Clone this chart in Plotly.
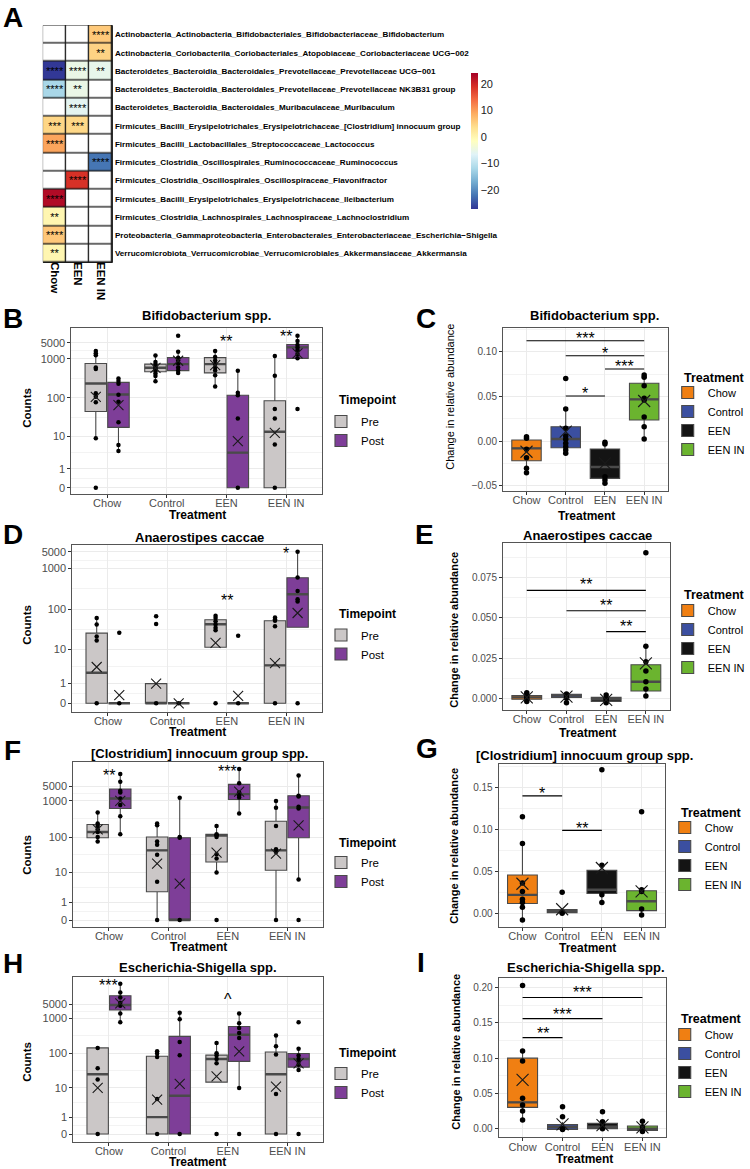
import numpy as np
import plotly.graph_objects as go

# ======================= DATA =======================
# ---- Panel A (heatmap) ----
HM_TAXA = [
    "Actinobacteria_Actinobacteria_Bifidobacteriales_Bifidobacteriaceae_Bifidobacterium",
    "Actinobacteria_Coriobacteriia_Coriobacteriales_Atopobiaceae_Coriobacteriaceae UCG−002",
    "Bacteroidetes_Bacteroidia_Bacteroidales_Prevotellaceae_Prevotellaceae UCG−001",
    "Bacteroidetes_Bacteroidia_Bacteroidales_Prevotellaceae_Prevotellaceae NK3B31 group",
    "Bacteroidetes_Bacteroidia_Bacteroidales_Muribaculaceae_Muribaculum",
    "Firmicutes_Bacilli_Erysipelotrichales_Erysipelotrichaceae_[Clostridium] innocuum group",
    "Firmicutes_Bacilli_Lactobacillales_Streptococcaceae_Lactococcus",
    "Firmicutes_Clostridia_Oscillospirales_Ruminococcaceae_Ruminococcus",
    "Firmicutes_Clostridia_Oscillospirales_Oscillospiraceae_Flavonifractor",
    "Firmicutes_Bacilli_Erysipelotrichales_Erysipelotrichaceae_Ileibacterium",
    "Firmicutes_Clostridia_Lachnospirales_Lachnospiraceae_Lachnoclostridium",
    "Proteobacteria_Gammaproteobacteria_Enterobacterales_Enterobacteriaceae_Escherichia−Shigella",
    "Verrucomicrobiota_Verrucomicrobiae_Verrucomicrobiales_Akkermansiaceae_Akkermansia",
]
HM_GROUPS = ["Chow", "EEN", "EEN IN"]
HM_VALUES = [
    [None, None, 6.0],
    [None, None, 5.0],
    [-27.0, -5.0, -5.5],
    [-12.0, -5.0, None],
    [None, -6.0, None],
    [4.7, 4.5, None],
    [9.5, None, None],
    [None, None, -22.0],
    [None, 19.0, None],
    [23.0, None, None],
    [0.0, None, None],
    [6.2, None, None],
    [0.0, None, None],
]
HM_STARS = [
    ["", "", "****"],
    ["", "", "**"],
    ["****", "****", "**"],
    ["****", "**", ""],
    ["", "****", ""],
    ["***", "***", ""],
    ["****", "", ""],
    ["", "", "****"],
    ["", "****", ""],
    ["****", "", ""],
    ["**", "", ""],
    ["****", "", ""],
    ["**", "", ""],
]
HM_CB_TICKS = [-20, -10, 0, 10, 20]

# ---- common categories ----
CATS = ["Chow", "Control", "EEN", "EEN IN"]
TIMEPOINTS = ["Pre", "Post"]
COUNT_TICKS = [0, 1, 10, 100, 1000, 5000]

# ---- count panels: order = Chow Pre, Chow Post, Control Pre, Control Post, EEN Pre, EEN Post, EEN IN Pre, EEN IN Post
B_Q1 = [45, 17.5, 468, 500, 437, 0, 0, 1040]
B_MED = [234, 123, 589, 731, 731, 3.7, 13.4, 3120]
B_Q3 = [759, 251, 731, 1125, 1125, 117, 85, 4200]
B_LO = [9, 4.1, 269, 437, 195, 0, 0, 1040]
B_HI = [2190, 316, 1370, 2030, 2190, 495, 1310, 7530]
B_MEAN = [107, 66, 589, 890, 690, 7.6, 12.5, 1730]
B_PTS = [
    [2190, 1730, 1425, 600, 550, 132, 107, 78, 9, 0],
    [316, 270, 230, 120, 80, 24, 6, 4.1],
    [1370, 830, 700, 620, 560, 500, 420, 363, 269],
    [7530, 2030, 1100, 900, 760, 600, 500, 437],
    [2190, 1200, 900, 731, 600, 500, 380, 195],
    [495, 135, 117, 30, 0],
    [1310, 370, 52, 30, 6.2, 0],
    [7530, 5500, 3950, 3120, 2370, 1600, 1040, 52],
]

D_Q1 = [0, 0, 0, 0, 11.5, 0, 0, 36.8]
D_MED = [2.45, 0, 0, 0, 43.6, 0, 4.0, 236]
D_Q3 = [26.3, 0, 1, 0, 56.4, 0, 53, 595]
D_LO = [0, 0, 0, 0, 11.5, 0, 0, 36.8]
D_HI = [62, 0, 1, 0, 70, 0, 64, 5000]
D_MEAN = [3.6, 0.33, 1, 0, 15, 0.3, 4.6, 82]
D_PTS = [
    [62, 43, 21.7, 17.3, 0],
    [26.8, 0],
    [68, 44.4, 0],
    [0],
    [70, 62, 52, 43, 36, 31, 0],
    [22.6, 0],
    [64, 58, 53, 38.8, 0],
    [5000, 600, 283, 178, 156, 0],
]

F_Q1 = [96, 617, 2.7, 0, 20.3, 1157, 11.7, 96]
F_MED = [138, 1290, 43, 0, 111, 2080, 43, 658]
F_Q3 = [222, 3600, 100, 96, 119, 5560, 274, 1730]
F_LO = [76, 119, 0, 0, 10, 448, 0, 6.4]
F_HI = [478, 10770, 236, 1390, 203, 14800, 990, 9680]
F_MEAN = [164, 1000, 18.2, 4.9, 37, 2690, 34.8, 212]
F_PTS = [
    [478, 236, 203, 164, 138, 100, 76],
    [10770, 6600, 3000, 2500, 1290, 765, 379, 119],
    [236, 212, 76, 62, 32.6, 5.5, 0],
    [1390, 101, 96, 0],
    [203, 119, 112, 100, 33.8, 25.5, 10, 0],
    [14800, 5930, 2500, 1860, 1440, 448],
    [990, 645, 203, 46, 39, 0],
    [9680, 1730, 1600, 687, 617, 6.4, 0],
]

H_Q1 = [0, 2550, 0, 0, 15, 60, 0, 41]
H_MED = [25.7, 4470, 1, 6.0, 70, 343, 25.7, 70]
H_Q3 = [145, 8570, 84, 308, 90, 590, 111, 100]
H_LO = [0, 780, 0, 0, 15, 10, 0, 34]
H_HI = [145, 18960, 116, 1890, 200, 1750, 329, 138]
H_MEAN = [10, 5200, 4.6, 13.4, 22.3, 116, 11, 53]
H_PTS = [
    [145, 38, 18, 0],
    [18960, 10600, 7700, 5450, 4150, 1750, 780],
    [116, 100, 80, 4.8, 0],
    [1890, 940, 213, 90, 0],
    [200, 102, 88, 70, 53, 0],
    [1750, 730, 530, 383, 277, 10, 0],
    [329, 161, 94, 6.7, 0],
    [780, 138, 88, 70, 60, 48, 34, 0],
]

# ---- change panels: order = Chow, Control, EEN, EEN IN
C_Q1 = [-0.022, -0.0075, -0.0418, 0.0235]
C_MED = [-0.0082, 0.0022, -0.0291, 0.0466]
C_Q3 = [0.0011, 0.016, -0.009, 0.0646]
C_LO = [-0.0354, -0.0138, -0.0474, 0.0022]
C_HI = [0.0049, 0.0358, -0.0015, 0.0739]
C_MEAN = [-0.012, 0.0104, -0.025, 0.0448]
C_PTS = [
    [0.0049, 0.003, -0.0093, -0.0187, -0.0306, -0.0354],
    [0.070, 0.0358, 0.0142, 0.0056, 0.0019, -0.0026, -0.0063, -0.010, -0.0138],
    [-0.0015, -0.0034, -0.040, -0.0437, -0.0474],
    [0.0739, 0.0713, 0.062, 0.0478, 0.0459, 0.027, 0.016, 0.0022],
]
C_SIG = [(0, 3, 0.1123, "***"), (1, 3, 0.0955, "*"), (2, 3, 0.0806, "***"), (1, 2, 0.0504, "*")]

E_Q1 = [-0.0006, 0.0006, -0.002, 0.0045]
E_MED = [0.0006, 0.0017, -0.0006, 0.0103]
E_Q3 = [0.0017, 0.0025, 0.0006, 0.0209]
E_LO = [-0.002, -0.0027, -0.003, 0.0014]
E_HI = [0.0035, 0.003, 0.002, 0.0324]
E_MEAN = [0.0006, 0.001, -0.001, 0.0217]
E_PTS = [
    [0.0035, 0.002, 0.0006, -0.0006, -0.002],
    [0.0027, 0.0014, 0.0, -0.0027],
    [0.002, 0.0, -0.001, -0.0027],
    [0.0905, 0.0324, 0.0227, 0.017, 0.0103, 0.0058, 0.0014],
]
E_SIG = [(0, 3, 0.0671, "**"), (1, 3, 0.0545, "**"), (2, 3, 0.0415, "**")]

G_Q1 = [0.0116, 0.0008, 0.0236, 0.0032]
G_MED = [0.022, 0.0024, 0.028, 0.0144]
G_Q3 = [0.0456, 0.0044, 0.0512, 0.0268]
G_LO = [-0.008, 0.0, 0.0128, -0.002]
G_HI = [0.0832, 0.0048, 0.0572, 0.0288]
G_MEAN = [0.0352, 0.0048, 0.054, 0.026]
G_PTS = [
    [0.115, 0.0832, 0.036, 0.026, 0.0168, 0.0128, 0.0072, -0.008],
    [0.0252, 0.0012, 0.0],
    [0.171, 0.0572, 0.022, 0.0128],
    [0.121, 0.028, 0.026, 0.005, -0.002],
]
G_SIG = [(0, 1, 0.140, "*"), (1, 2, 0.0988, "**")]

I_Q1 = [0.0302, -0.001, 0.0, -0.0024]
I_MED = [0.0373, 0.0024, 0.0028, 0.0]
I_Q3 = [0.100, 0.0057, 0.0075, 0.0038]
I_LO = [0.0123, -0.001, -0.001, -0.004]
I_HI = [0.110, 0.0094, 0.0113, 0.0104]
I_MEAN = [0.0693, 0.006, 0.005, 0.002]
I_PTS = [
    [0.203, 0.110, 0.0958, 0.043, 0.0335, 0.025, 0.0123],
    [0.031, 0.017, 0.0, -0.001],
    [0.024, 0.0099, 0.0052, 0.0],
    [0.0104, 0.0028, -0.0019, -0.004],
]
I_SIG = [(0, 3, 0.186, "***"), (0, 2, 0.156, "***"), (0, 1, 0.129, "**")]

# significance marks on count panels: (category index, height on the scale axis, label)
B_MARKS = [(2, 3.83, "**"), (3, 3.95, "**")]
D_MARKS = [(2, 2.585, "**"), (3, 3.74, "*")]
F_MARKS = [(0, 4.10, "**"), (2, 4.19, "***")]
H_MARKS = [(0, 4.32, "***"), (2, 3.93, "^")]

# ======================= SCALE =======================
# pseudo-log count scale used by the original figure
SCALE_COUNTS = np.array([0, 1, 10, 100, 1000, 5000, 50000], dtype=float)
SCALE_POS = np.array([0, 0.48, 1.31, 2.29, 3.29, 3.70, 4.70])


def tr(v):
    v = np.asarray(v, dtype=float)
    return np.interp(np.log10(v + 1.0), np.log10(SCALE_COUNTS + 1.0), SCALE_POS)


# ======================= STYLE =======================
W, H = 750, 1169
FONT = "Liberation Sans, Arial, Helvetica, sans-serif"
TP_COL = {"Pre": "#CBC7C7", "Post": "#7E3E98"}
TR_COL = {"Chow": "#F07F12", "Control": "#3B4FA0", "EEN": "#141414", "EEN IN": "#6BB42F"}
EDGE = "#4A4A4A"
RDYLBU_R = ["#313695", "#4575b4", "#74add1", "#abd9e9", "#e0f3f8", "#ffffbf",
            "#fee090", "#fdae61", "#f46d43", "#d73027", "#a50026"]


def fx(px):
    return px / W


def fy(py):
    return 1 - py / H


fig = go.Figure()
anns = []
shapes = []
lay = dict(width=W, height=H, margin=dict(l=0, r=0, t=0, b=0, pad=0),
           paper_bgcolor="white", plot_bgcolor="white",
           font=dict(family=FONT, color="#000"), boxmode="overlay", hovermode=False)


def add_text(text, x, y, size, bold=False, angle=0, color="#000", xanchor="center",
             yanchor="middle", xref="paper", yref="paper", yshift=0, family=FONT):
    if bold:
        text = "<b>" + text + "</b>"
    if xref == "paper":
        x = fx(x)
    if yref == "paper":
        y = fy(y)
    anns.append(dict(text=text, x=x, y=y, xref=xref, yref=yref, showarrow=False,
                     font=dict(size=size, color=color, family=family), textangle=angle,
                     xanchor=xanchor, yanchor=yanchor, yshift=yshift))


# ======================= PANEL A =======================
blank = [[1 if v is None else None for v in row] for row in HM_VALUES]
fig.add_trace(go.Heatmap(z=blank, x=HM_GROUPS, y=HM_TAXA, colorscale=[[0, "white"], [1, "white"]],
                         showscale=False, xgap=1.3, ygap=1.3, hoverinfo="skip",
                         xaxis="x", yaxis="y"))
fig.add_trace(go.Heatmap(
    z=HM_VALUES, x=HM_GROUPS, y=HM_TAXA, text=HM_STARS, texttemplate="%{text}",
    textfont=dict(size=11, color="#000", family=FONT),
    colorscale=[[i / 10, c] for i, c in enumerate(RDYLBU_R)], zmin=-27.2, zmax=24.2,
    xgap=1.3, ygap=1.3, hoverinfo="skip", xaxis="x", yaxis="y",
    colorbar=dict(x=fx(475), xanchor="left", y=fy(141), yanchor="middle", len=136 / H,
                  lenmode="fraction", thickness=7, outlinewidth=0, xpad=0, ypad=0,
                  tickvals=HM_CB_TICKS, ticktext=[str(t).replace("-", "−") for t in HM_CB_TICKS],
                  ticks="", tickfont=dict(size=11, color="#222", family=FONT))))
shapes.append(dict(type="rect", xref="x", yref="y", x0=-0.5, x1=len(HM_GROUPS) - 0.5,
                   y0=-0.5, y1=len(HM_TAXA) - 0.5, fillcolor="#1a1a1a",
                   line=dict(color="#1a1a1a", width=1), layer="below"))
lay["xaxis"] = dict(domain=[fx(43), fx(114)], anchor="y", type="category", tickangle=90,
                    showgrid=False, zeroline=False, ticks="", showline=False,
                    ticklabelstandoff=-2,
                    tickfont=dict(family=FONT, size=11.5, color="#000", weight="bold"))
lay["yaxis"] = dict(domain=[fy(263), fy(25)], anchor="x", type="category", autorange="reversed",
                    side="right", showgrid=False, zeroline=False, ticks="", showline=False,
                    ticklabelstandoff=1,
                    tickfont=dict(family=FONT, size=8.1, color="#000", weight="bold"))
add_text("A", 1, 17, 28, bold=True, xanchor="left")

# ======================= BOX PANELS =======================
COUNT_DATA = {
    "B": (B_Q1, B_MED, B_Q3, B_LO, B_HI, B_MEAN, B_PTS, B_MARKS),
    "D": (D_Q1, D_MED, D_Q3, D_LO, D_HI, D_MEAN, D_PTS, D_MARKS),
    "F": (F_Q1, F_MED, F_Q3, F_LO, F_HI, F_MEAN, F_PTS, F_MARKS),
    "H": (H_Q1, H_MED, H_Q3, H_LO, H_HI, H_MEAN, H_PTS, H_MARKS),
}
CHANGE_DATA = {
    "C": (C_Q1, C_MED, C_Q3, C_LO, C_HI, C_MEAN, C_PTS, C_SIG),
    "E": (E_Q1, E_MED, E_Q3, E_LO, E_HI, E_MEAN, E_PTS, E_SIG),
    "G": (G_Q1, G_MED, G_Q3, G_LO, G_HI, G_MEAN, G_PTS, G_SIG),
    "I": (I_Q1, I_MED, I_Q3, I_LO, I_HI, I_MEAN, I_PTS, I_SIG),
}

# layout specs (pixel geometry)
PANELS = [
    dict(L="B", kind="count", xd=(72, 325), yd=(328, 494), yr=(-0.161, 4.075),
         title="Bifidobacterium spp.", tpos=(208, 315), letter=(13, 318), ytit=(27, 408),
         xtit=(199, 515), leg=(324, 431), legt=(340, 400)),
    dict(L="C", kind="change", xd=(507.7, 674), yd=(328, 490.7), yr=(-0.0556, 0.1265),
         ticks=[-0.05, 0, 0.05, 0.10], fmt="{:.2f}", title="Bifidobacterium spp.", tpos=(600, 315),
         letter=(430, 318), ytit=(454, 397), ybold=False, xtit=(592, 516), leg=(674, 421),
         legt=(688, 378), sshift=2.5),
    dict(L="D", kind="count", xd=(73, 325), yd=(545, 711.7), yr=(-0.205, 3.863),
         title="Anaerostipes caccae", tpos=(201, 537), letter=(13, 534), ytit=(27, 625),
         xtit=(199, 732), leg=(324, 644.5), legt=(340, 614)),
    dict(L="E", kind="change", xd=(507.7, 676), yd=(543, 710), yr=(-0.00728, 0.0966),
         ticks=[0, 0.025, 0.05, 0.075], fmt="{:.3f}", title="Anaerostipes caccae", tpos=(593, 536),
         letter=(429, 534), ytit=(458, 630), ybold=True, xtit=(593, 733), leg=(674, 639),
         legt=(688, 595), sshift=5.5),
    dict(L="F", kind="count", xd=(74, 326), yd=(761.7, 927), yr=(-0.193, 4.371),
         title="[Clostridium] innocuum group spp.", tpos=(201, 753), letter=(13, 750),
         ytit=(27, 855), xtit=(200, 947), leg=(324, 872), legt=(340, 843)),
    dict(L="G", kind="change", xd=(503.3, 671.7), yd=(764, 926.7), yr=(-0.016, 0.178),
         ticks=[0, 0.05, 0.10, 0.15], fmt="{:.2f}", title="[Clostridium] innocuum group spp.",
         tpos=(590, 755), letter=(431, 748), ytit=(458, 846), ybold=True, xtit=(593, 948),
         leg=(671, 856), legt=(685, 813), sshift=2),
    dict(L="H", kind="count", xd=(74, 326), yd=(976.7, 1141.7), yr=(-0.219, 4.477),
         title="Escherichia-Shigella spp.", tpos=(200, 967), letter=(13, 963), ytit=(27, 1062),
         xtit=(199, 1162), leg=(324, 1083), legt=(340, 1053)),
    dict(L="I", kind="change", xd=(503.3, 672.7), yd=(977.7, 1137.3), yr=(-0.0122, 0.214),
         ticks=[0, 0.05, 0.10, 0.15, 0.20], fmt="{:.2f}", title="Escherichia-Shigella spp.",
         tpos=(592, 967), letter=(425, 962), ytit=(460, 1052), ybold=True, xtit=(590, 1159),
         leg=(671, 1063), legt=(685, 1019), sshift=4.5),
]

DODGE = 0.19
BOXW_L = 0.36
BOXW_R = 0.75

for k, P in enumerate(PANELS):
    n = k + 2
    xa, ya = "x%d" % n, "y%d" % n
    legname = "legend%d" % (k + 1) if k > 0 else "legend"
    if P["kind"] == "count":
        q1, med, q3, lo, hi, mean, pts, marks = COUNT_DATA[P["L"]]
        for ti, tp in enumerate(TIMEPOINTS):
            idx = [gi * 2 + ti for gi in range(len(CATS))]
            xs = [gi + (2 * ti - 1) * DODGE for gi in range(len(CATS))]
            fig.add_trace(go.Box(
                x=xs, q1=tr([q1[i] for i in idx]), median=tr([med[i] for i in idx]),
                q3=tr([q3[i] for i in idx]), lowerfence=tr([lo[i] for i in idx]),
                upperfence=tr([hi[i] for i in idx]), width=BOXW_L, boxpoints=False,
                whiskerwidth=0, fillcolor=TP_COL[tp], line=dict(color=EDGE, width=1.1),
                name=tp, legend=legname, showlegend=True, xaxis=xa, yaxis=ya, hoverinfo="skip"))
            # thick median
            mx, my = [], []
            for x0, i in zip(xs, idx):
                m = float(tr(med[i]))
                mx += [x0 - BOXW_L / 2, x0 + BOXW_L / 2, None]
                my += [m, m, None]
            fig.add_trace(go.Scatter(x=mx, y=my, mode="lines", line=dict(color=EDGE, width=2.4),
                                     showlegend=False, xaxis=xa, yaxis=ya, hoverinfo="skip"))
            px_, py_ = [], []
            for x0, i in zip(xs, idx):
                px_ += [x0] * len(pts[i])
                py_ += list(tr(pts[i]))
            fig.add_trace(go.Scatter(x=px_, y=py_, mode="markers",
                                     marker=dict(size=4.5, color="#000"),
                                     showlegend=False, xaxis=xa, yaxis=ya, hoverinfo="skip"))
            fig.add_trace(go.Scatter(x=xs, y=tr([mean[i] for i in idx]), mode="markers",
                                     marker=dict(symbol="x-thin", size=10,
                                                 line=dict(width=1.1, color="#1a1a1a")),
                                     showlegend=False, xaxis=xa, yaxis=ya, hoverinfo="skip"))
        for gi, yv, lab in marks:
            add_text(lab, gi, yv, 16, xref=xa, yref=ya, yshift=-3.5)
        tv = list(tr(COUNT_TICKS))
        yaxis = dict(tickvals=tv, ticktext=[str(t) for t in COUNT_TICKS],
                     minor=dict(tickvals=[(a + b) / 2 for a, b in zip(tv[:-1], tv[1:])],
                                showgrid=True, gridcolor="#F3F3F3", gridwidth=0.6, ticks=""),
                     tickfont=dict(size=11, color="#4D4D4D"))
        lay[legname] = dict(x=fx(P["leg"][0]), y=fy(P["leg"][1]), xanchor="left", yanchor="middle",
                            bgcolor="rgba(0,0,0,0)", font=dict(size=11.5, color="#000"),
                            traceorder="normal", itemclick=False, itemdoubleclick=False)
        add_text("Timepoint", P["legt"][0], P["legt"][1], 12, bold=True, xanchor="left")
        add_text("Counts", P["ytit"][0], P["ytit"][1], 11.5, bold=True, angle=-90)
    else:
        q1, med, q3, lo, hi, mean, pts, sig = CHANGE_DATA[P["L"]]
        for gi, cat in enumerate(CATS):
            fig.add_trace(go.Box(
                x=[gi], q1=[q1[gi]], median=[med[gi]], q3=[q3[gi]], lowerfence=[lo[gi]],
                upperfence=[hi[gi]], width=BOXW_R, boxpoints=False, whiskerwidth=0,
                fillcolor=TR_COL[cat], line=dict(color=EDGE, width=1.1), name=cat,
                legend=legname, showlegend=True, xaxis=xa, yaxis=ya, hoverinfo="skip"))
        mx, my = [], []
        for gi in range(len(CATS)):
            mx += [gi - BOXW_R / 2, gi + BOXW_R / 2, None]
            my += [med[gi], med[gi], None]
        fig.add_trace(go.Scatter(x=mx, y=my, mode="lines", line=dict(color=EDGE, width=2.4),
                                 showlegend=False, xaxis=xa, yaxis=ya, hoverinfo="skip"))
        px_, py_ = [], []
        for gi in range(len(CATS)):
            px_ += [gi] * len(pts[gi])
            py_ += pts[gi]
        fig.add_trace(go.Scatter(x=px_, y=py_, mode="markers", marker=dict(size=5.5, color="#000"),
                                 showlegend=False, xaxis=xa, yaxis=ya, hoverinfo="skip"))
        fig.add_trace(go.Scatter(x=list(range(len(CATS))), y=mean, mode="markers",
                                 marker=dict(symbol="x-thin", size=12,
                                             line=dict(width=1.1, color="#1a1a1a")),
                                 showlegend=False, xaxis=xa, yaxis=ya, hoverinfo="skip"))
        bx, by = [], []
        for a, b, lvl, lab in sig:
            bx += [a, b, None]
            by += [lvl, lvl, None]
            add_text(lab, (a + b) / 2, lvl, 16, xref=xa, yref=ya, yshift=P["sshift"])
        fig.add_trace(go.Scatter(x=bx, y=by, mode="lines", line=dict(color="#000", width=1.1),
                                 showlegend=False, xaxis=xa, yaxis=ya, hoverinfo="skip"))
        tvals = P["ticks"]
        step = tvals[1] - tvals[0]
        minor_vals = [t + step / 2 for t in [tvals[0] - step] + tvals]
        yaxis = dict(tickvals=tvals,
                     ticktext=[P["fmt"].format(t).replace("-", "−") for t in tvals],
                     minor=dict(tickvals=minor_vals, showgrid=True, gridcolor="#F3F3F3",
                                gridwidth=0.6, ticks=""),
                     tickfont=dict(size=10, color="#4D4D4D"))
        lay[legname] = dict(x=fx(P["leg"][0]), y=fy(P["leg"][1]), xanchor="left", yanchor="middle",
                            bgcolor="rgba(0,0,0,0)", font=dict(size=11, color="#000"),
                            traceorder="normal", itemclick=False, itemdoubleclick=False)
        add_text("Treatment", P["legt"][0], P["legt"][1], 12.5, bold=True, xanchor="left")
        add_text("Change in relative abundance", P["ytit"][0], P["ytit"][1], 11,
                 bold=P["ybold"], angle=-90)

    yaxis.update(domain=[fy(P["yd"][1]), fy(P["yd"][0])], anchor=xa, range=list(P["yr"]),
                 showgrid=True, gridcolor="#EBEBEB", gridwidth=1, zeroline=False,
                 ticks="outside", ticklen=3, tickcolor="#333", showline=True, mirror=True,
                 linecolor="#555", linewidth=1)
    lay["yaxis%d" % n] = yaxis
    lay["xaxis%d" % n] = dict(domain=[fx(P["xd"][0]), fx(P["xd"][1])], anchor=ya,
                              range=[-0.6, 3.6], tickvals=list(range(len(CATS))), ticktext=CATS,
                              showgrid=True, gridcolor="#EBEBEB", gridwidth=1, zeroline=False,
                              ticks="outside", ticklen=3, tickcolor="#333", showline=True,
                              mirror=True, linecolor="#555", linewidth=1, ticklabelstandoff=-4,
                              tickfont=dict(size=11, color="#4D4D4D"))
    add_text(P["title"], P["tpos"][0], P["tpos"][1], 13, bold=True)
    add_text(P["L"], P["letter"][0], P["letter"][1], 28, bold=True)
    add_text("Treatment", P["xtit"][0], P["xtit"][1], 12, bold=True)

lay["annotations"] = anns
lay["shapes"] = shapes
fig.update_layout(**lay)
fig.write_html("out.html", config={"displayModeBar": False, "staticPlot": False},
               post_script="document.body.style.margin='0';document.body.style.padding='0';"
                           "document.body.style.overflow='hidden';")
